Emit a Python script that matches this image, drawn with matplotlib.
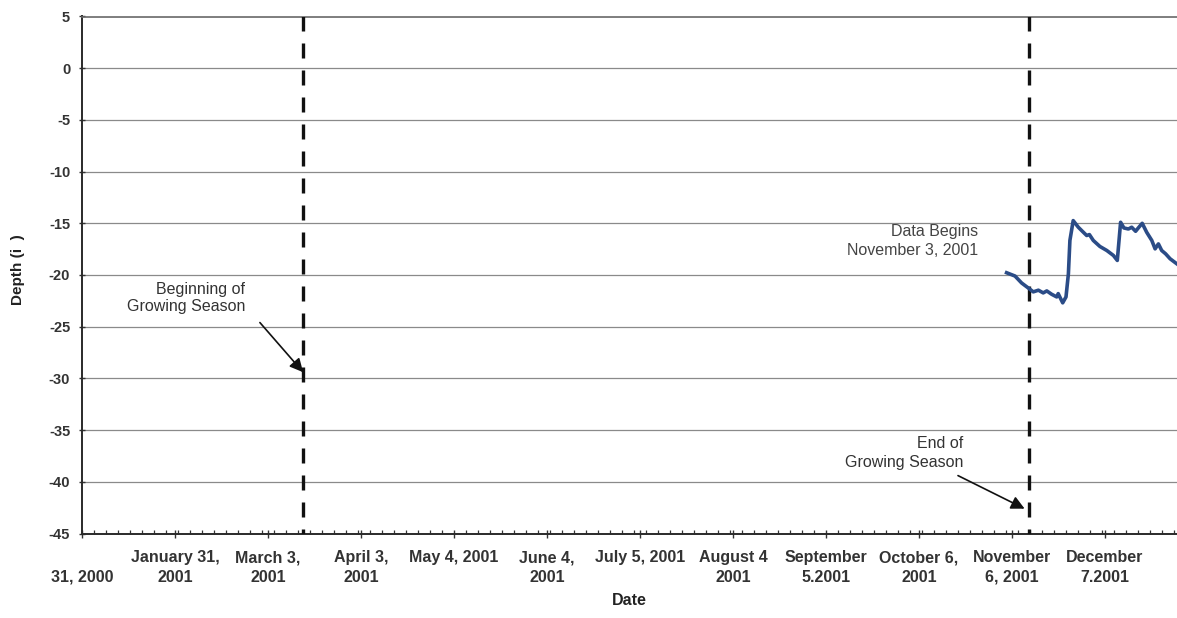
import matplotlib
matplotlib.use("Agg")
import matplotlib.pyplot as plt
from matplotlib.ticker import MultipleLocator, FixedLocator

plt.rcParams['font.family'] = ['Liberation Sans', 'DejaVu Sans']
plt.rcParams['axes.unicode_minus'] = False

# Days counted from December 31, 2000
tick_days = [0, 31, 62, 93, 124, 155, 186, 217, 248, 279, 310, 341]
tick_labels = ["\n31, 2000", "January 31,\n2001", "March 3,\n2001", "April 3,\n2001",
               "May 4, 2001\n", "June 4,\n2001", "July 5, 2001\n", "August 4\n2001",
               "September\n5.2001", "October 6,\n2001", "November\n6, 2001", "December\n7.2001"]

# Growing season boundaries (days)
season_start = 73.7
season_end = 315.7

# Well depth readings (inches) from November 3, 2001 onward
obs_days = [308.2, 311.0, 313.2, 315.4, 317.1, 318.8, 320.4, 321.6, 323.2, 324.9,
            325.4, 326.9, 328.0, 328.8, 329.3, 330.4, 332.1, 333.8, 334.9, 335.8,
            337.1, 339.3, 341.6, 343.8, 345.1, 346.2, 347.3, 348.8, 349.9, 351.2,
            352.3, 353.4, 354.9, 356.6, 357.7, 358.8, 359.9, 361.2, 362.7, 364.9]
obs_depth = [-19.78, -20.10, -20.77, -21.25, -21.63, -21.47, -21.73, -21.54, -21.86, -22.12,
             -21.80, -22.69, -22.12, -19.88, -16.66, -14.74, -15.38, -15.87, -16.18, -16.09,
             -16.66, -17.24, -17.63, -18.11, -18.59, -14.90, -15.45, -15.55, -15.38, -15.77,
             -15.38, -15.00, -15.87, -16.66, -17.47, -16.99, -17.63, -17.95, -18.43, -18.91]

W, H = 1177, 618
fig = plt.figure(figsize=(W / 100, H / 100), dpi=100)
ax = fig.add_axes([82 / W, 1 - 533.5 / H, (W - 82) / W, (533.5 - 16.5) / H])

ax.set_xlim(0, 365)
ax.set_ylim(-45, 5)

# horizontal grid
ax.yaxis.set_major_locator(MultipleLocator(5))
ax.grid(axis='y', color='#8a8a8a', linewidth=0.9)
ax.set_axisbelow(True)

ax.spines['right'].set_visible(False)
ax.spines['top'].set_color('#6a6a6a')
ax.spines['top'].set_linewidth(1.2)
for s in ('left', 'bottom'):
    ax.spines[s].set_color('#2a2a2a')
    ax.spines[s].set_linewidth(1.4)

ax.xaxis.set_major_locator(FixedLocator(tick_days))
ax.xaxis.set_minor_locator(FixedLocator([d for d in range(0, 366, 4)]))
ax.set_xticklabels(tick_labels, fontsize=11.5, color='#333333', linespacing=1.4)
ax.tick_params(axis='x', which='major', direction='inout', length=6, width=1.0, color='#333333', pad=9)
ax.tick_params(axis='x', which='minor', direction='in', length=3, width=0.9, color='#333333')
ax.tick_params(axis='y', which='major', direction='inout', length=5, width=1.0, color='#333333', pad=6)
for lbl in ax.get_yticklabels():
    lbl.set_fontsize(10.5)
    lbl.set_fontweight('bold')
    lbl.set_color('#333333')
for lbl in ax.get_xticklabels():
    lbl.set_fontweight('bold')

ax.set_xlabel("Date", fontsize=11.5, fontweight='bold', color='#222222', labelpad=6)
fig.text(18 / W, 1 - 270 / H, "Depth (i  )", rotation=90, fontsize=11, fontweight='bold',
         color='#222222', ha='center', va='center')

# growing season markers
dash = (0, (4.5, 3.6))
ax.plot([season_start, season_start], [5, -45], color='#111111', lw=2.4, linestyle=dash, zorder=3)
ax.plot([season_end, season_end], [5, -45], color='#111111', lw=2.4, linestyle=dash, zorder=3)

# observed depth series
ax.plot(obs_days, obs_depth, color='#2b4c87', lw=2.6, solid_joinstyle='round', zorder=4, clip_on=False)

# annotations
ax.text(54.3, -22.2, "Beginning of\nGrowing Season", ha='right', va='center', fontsize=11.5,
        color='#333333', linespacing=1.2)
ax.annotate("", xy=(season_start, -29.4), xytext=(59.3, -24.6),
            arrowprops=dict(arrowstyle='-|>', color='#111111', lw=1.2, mutation_scale=20,
                            shrinkA=0, shrinkB=0))

ax.text(298.7, -16.7, "Data Begins\nNovember 3, 2001", ha='right', va='center', fontsize=11.5,
        color='#444444', linespacing=1.3)

ax.text(293.7, -37.2, "End of\nGrowing Season", ha='right', va='center', fontsize=11.5,
        color='#333333', linespacing=1.3)
ax.annotate("", xy=(season_end - 1.5, -42.6), xytext=(292.0, -39.4),
            arrowprops=dict(arrowstyle='-|>', color='#111111', lw=1.2, mutation_scale=20,
                            shrinkA=0, shrinkB=0))

fig.savefig("out.png", dpi=100, facecolor='white')
